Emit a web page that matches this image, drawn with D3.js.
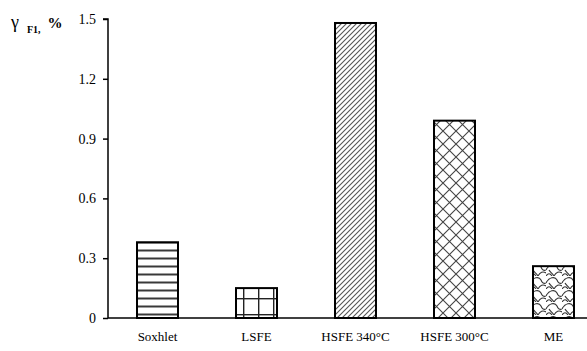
<!DOCTYPE html>
<html>
<head>
<meta charset="utf-8">
<script src="https://cdn.jsdelivr.net/npm/d3@7/dist/d3.min.js"></script>
<style>
  html, body { margin: 0; padding: 0; background: #fff; }
  svg { display: block; }
  svg text { font-family: "Times New Roman", "Liberation Serif", "DejaVu Serif", serif; fill: #000; }
</style>
</head>
<body>
<svg id="chart" width="587" height="351"></svg>
<script>
// Extraction yield of fraction F1 by method
const categories = ["Soxhlet", "LSFE", "HSFE 340°C", "HSFE 300°C", "ME"];
const yieldValues = [0.38, 0.15, 1.48, 0.99, 0.26];
const patternIds = ["hlines", "grid", "diag", "cross", "scales"];
const yTicks = [0, 0.3, 0.6, 0.9, 1.2, 1.5];

const serif = "'Times New Roman', 'Liberation Serif', 'DejaVu Serif', serif";
const svg = d3.select("#chart");
const x0 = 108, xEnd = 603, y0 = 318, yTop = 19;

const x = d3.scaleBand().domain(categories).range([x0, xEnd])
  .paddingInner(0.586).paddingOuter(0.293);
const y = d3.scaleLinear().domain([0, 1.5]).range([y0, yTop]);

// Fill patterns
const defs = svg.append("defs");

const hl = defs.append("pattern").attr("id", "hlines").attr("patternUnits", "userSpaceOnUse")
  .attr("width", 8).attr("height", 8).attr("y", y0 + 0.5);
hl.append("rect").attr("width", 8).attr("height", 8).attr("fill", "#fff");
hl.append("line").attr("x1", 0).attr("x2", 8).attr("y1", 4).attr("y2", 4)
  .attr("stroke", "#222").attr("stroke-width", 1.8);

const gr = defs.append("pattern").attr("id", "grid").attr("patternUnits", "userSpaceOnUse")
  .attr("width", 15).attr("height", 16).attr("x", 3).attr("y", y0 - 4);
gr.append("rect").attr("width", 15).attr("height", 16).attr("fill", "#fff");
gr.append("line").attr("x1", 0).attr("x2", 15).attr("y1", 0.5).attr("y2", 0.5)
  .attr("stroke", "#222").attr("stroke-width", 1.8);
gr.append("line").attr("x1", 0.5).attr("x2", 0.5).attr("y1", 0).attr("y2", 16)
  .attr("stroke", "#222").attr("stroke-width", 1.8);

const dg = defs.append("pattern").attr("id", "diag").attr("patternUnits", "userSpaceOnUse")
  .attr("width", 5).attr("height", 5);
dg.append("rect").attr("width", 5).attr("height", 5).attr("fill", "#fff");
dg.append("path").attr("d", "M-1,6 L6,-1 M-1,1 L1,-1 M4,6 L6,4")
  .attr("stroke", "#555").attr("stroke-width", 1.1);

const cr = defs.append("pattern").attr("id", "cross").attr("patternUnits", "userSpaceOnUse")
  .attr("width", 13).attr("height", 13).attr("x", 1).attr("y", 1);
cr.append("rect").attr("width", 13).attr("height", 13).attr("fill", "#fff");
cr.append("path").attr("d", "M0,0 L13,13 M13,0 L0,13")
  .attr("stroke", "#444").attr("stroke-width", 1.1);

const sc = defs.append("pattern").attr("id", "scales").attr("patternUnits", "userSpaceOnUse")
  .attr("width", 16).attr("height", 13).attr("x", 2).attr("y", 3);
sc.append("rect").attr("width", 16).attr("height", 13).attr("fill", "#fff");
sc.append("path")
  .attr("d", "M0,7 C3,1 9,0 11,4 C12,7 14,8 16,7 M0,13 C2,10 4,10 6,13 M8,13 C10,9 13,8 16,10 M3,7 C4,9 6,10 8,13")
  .attr("fill", "none").attr("stroke", "#333").attr("stroke-width", 1.1);

// Bars
svg.append("g").selectAll("rect")
  .data(categories.map((c, i) => ({ c, v: yieldValues[i], p: patternIds[i] })))
  .join("rect")
  .attr("x", d => x(d.c))
  .attr("y", d => y(d.v))
  .attr("width", x.bandwidth())
  .attr("height", d => y(0) - y(d.v))
  .attr("fill", d => `url(#${d.p})`)
  .attr("stroke", "#000")
  .attr("stroke-width", 2);

// Y axis
const yAxis = svg.append("g").attr("transform", `translate(${x0},0)`)
  .call(d3.axisLeft(y).tickValues(yTicks).tickSize(5).tickPadding(7)
    .tickFormat(d => d === 0 ? "0" : d3.format(".1f")(d)));
yAxis.attr("font-family", null).attr("font-size", null);
yAxis.select(".domain").attr("stroke", "#000").attr("stroke-width", 1.5)
  .attr("d", `M-5,${yTop}H0V${y0}`);
yAxis.selectAll(".tick line").attr("stroke", "#000").attr("stroke-width", 1.5);
yAxis.selectAll(".tick text").style("font-family", serif)
  .style("font-size", "14px").attr("fill", "#000");

// X axis baseline and category labels
svg.append("line").attr("x1", x0).attr("x2", 587).attr("y1", y0).attr("y2", y0)
  .attr("stroke", "#000").attr("stroke-width", 1.5);
svg.append("g").selectAll("text").data(categories).join("text")
  .attr("x", d => x(d) + x.bandwidth() / 2)
  .attr("y", 341)
  .attr("text-anchor", "middle")
  .style("font-family", serif)
  .style("font-size", "13px")
  .text(d => d);

// Y axis title
const title = svg.append("text").attr("x", 11).attr("y", 28)
  .style("font-family", serif).style("font-size", "18px");
title.append("tspan").text("γ");
title.append("tspan").attr("dx", 8).attr("dy", 5).style("font-size", "10px").style("font-weight", "bold").text("F1,");
title.append("tspan").attr("dx", 7).attr("dy", -5).style("font-size", "15px").style("font-weight", "bold").text("%");
</script>
</body>
</html>
